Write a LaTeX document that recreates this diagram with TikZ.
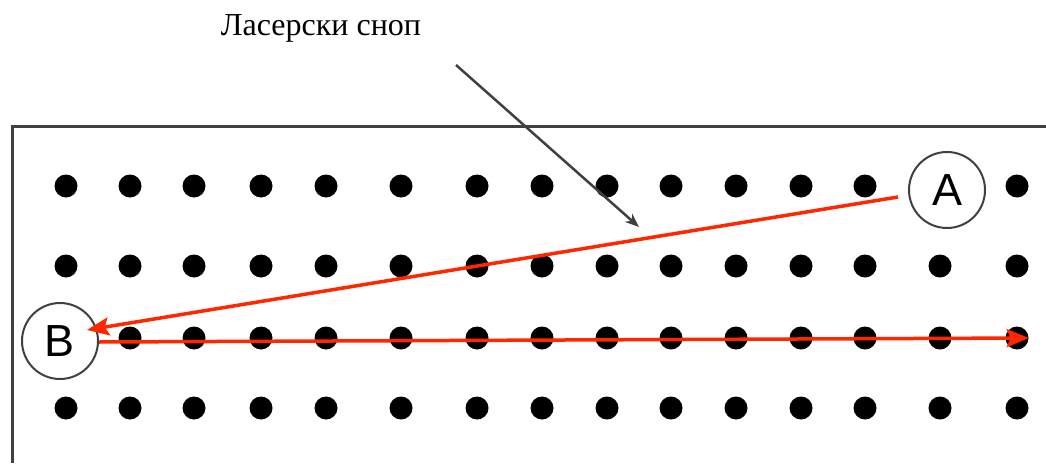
\documentclass[tikz,border=0pt]{standalone}
\usepackage{fontspec}
\setmainfont{Liberation Serif}
\newfontfamily\labelsans{Liberation Sans}
\usetikzlibrary{arrows.meta}
\definecolor{beamred}{RGB}{255,38,0}
\definecolor{framegray}{RGB}{64,64,64}
\tikzset{
    dot/.style={circle, fill=black, inner sep=0pt, minimum size=23pt},
    point/.style={circle, draw=framegray, line width=2pt, fill=white,
        minimum size=76pt, inner sep=0pt, font=\labelsans\fontsize{45}{50}\selectfont},
    beam/.style={beamred, line width=3.5pt, -{Stealth[length=22pt,width=18pt,inset=4pt]}}
}
\begin{document}
\begin{tikzpicture}[x=1pt, y=-1pt]
    \useasboundingbox (0,0) rectangle (1046,463);

    % okvir
    \draw[framegray, line width=3pt] (12,463) -- (12,126) -- (1046,126);

    % tacke
    \foreach \y [count=\r] in {186,266,338,408}{
        \foreach \x [count=\c] in {66,130,194,261,326,401,477,542,607,671,736,801,865,940,1017}{
            \ifnum\numexpr\r*100+\c\relax=114 \else
            \ifnum\numexpr\r*100+\c\relax=301 \else
                \node[dot] (d\r-\c) at (\x,\y) {};
            \fi\fi
        }
    }

    % tacke A i B
    \node[point] (A) at (947,190) {A};
    \node[point] (B) at (60,341) {B};

    % zraci
    \coordinate (a1) at (898,197);
    \coordinate (b1) at (87,330);
    \draw[beam] (a1) -- (b1);
    \draw[beam] (B.east |- 0,342) -- (d3-15.east);

    % natpis i strelica
    \node[anchor=base, font=\fontsize{32}{38}\selectfont] (label) at (321,35) {Ласерски сноп};
    \coordinate (s1) at (456,65);
    \coordinate (s2) at (639,227);
    \draw[framegray, line width=2.5pt, -{Stealth[length=14pt,width=11pt]}] (s1) -- (s2);
\end{tikzpicture}
\end{document}
